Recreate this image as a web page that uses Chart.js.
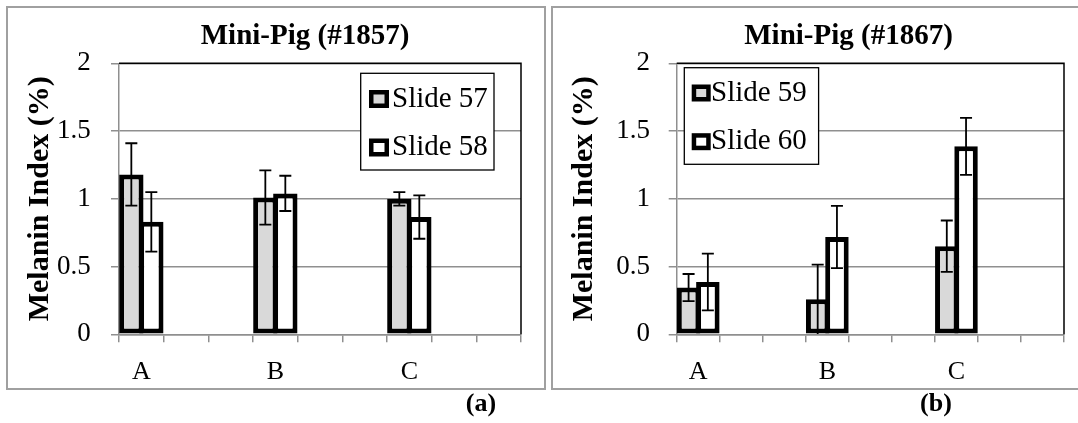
<!DOCTYPE html>
<html><head><meta charset="utf-8">
<script src="https://cdn.jsdelivr.net/npm/chart.js@4.4.1/dist/chart.umd.min.js"></script>
<style>
html,body{margin:0;padding:0;background:#fff;}
body{position:relative;width:1078px;height:423px;overflow:hidden;font-family:"Liberation Serif","Times New Roman",serif;}
.panel{position:absolute;box-sizing:border-box;border:2px solid #a0a0a0;}
.wrap{position:absolute;top:0;}
.cap{position:absolute;font-weight:bold;font-size:26px;line-height:26px;width:60px;text-align:center;color:#000;}
</style></head><body>
<div class="panel" style="left:6px;top:6px;width:540px;height:384px"></div>
<div class="panel" style="left:551px;top:6px;width:540px;height:384px"></div>
<div class="wrap" style="left:0;width:548px;height:392px"><canvas id="ca" width="548" height="392"></canvas></div>
<div class="wrap" style="left:548px;width:530px;height:392px"><canvas id="cb" width="530" height="392"></canvas></div>
<div class="cap" style="left:451px;top:390px">(a)</div>
<div class="cap" style="left:906px;top:390px">(b)</div>
<script>
// ---- data ----
const categories = ['A', 'B', 'C'];
const slotsPerCategory = 3;
const yTitle = 'Melanin Index (%)';
const titleA = 'Mini-Pig (#1857)';
const titleB = 'Mini-Pig (#1867)';
const namesA = ['Slide 57', 'Slide 58'];
const namesB = ['Slide 59', 'Slide 60'];
const slide57 = [1.18, 1.01, 1.00];
const slide57Err = [0.23, 0.20, 0.05];
const slide58 = [0.83, 1.04, 0.865];
const slide58Err = [0.22, 0.13, 0.16];
const slide59 = [0.345, 0.258, 0.65];
const slide59Err = [0.10, 0.256, 0.19];
const slide60 = [0.386, 0.718, 1.387];
const slide60Err = [0.21, 0.23, 0.21];

// ---- build helpers ----
const xLabels = categories.flatMap(c => [c, ...Array(slotsPerCategory - 1).fill('')]);
const spread = arr => arr.flatMap(v => [v, ...Array(slotsPerCategory - 1).fill(null)]);
const FAM = '"Liberation Serif", "Times New Roman", serif';
const GRAY = '#8f8f8f';

const frame = {
  id: 'frame',
  beforeDatasetsDraw(chart) {
    const {ctx, chartArea: a} = chart;
    ctx.save();
    ctx.strokeStyle = '#000'; ctx.lineWidth = 1.5;
    ctx.beginPath();
    ctx.moveTo(a.left, a.top); ctx.lineTo(a.right, a.top); ctx.lineTo(a.right, a.bottom);
    ctx.stroke();
    ctx.restore();
  }
};

const errorBars = {
  id: 'errorBars',
  afterDatasetsDraw(chart) {
    const {ctx, chartArea} = chart;
    const y = chart.scales.y;
    ctx.save();
    ctx.strokeStyle = '#000'; ctx.lineWidth = 1.8;
    chart.data.datasets.forEach((ds, di) => {
      const meta = chart.getDatasetMeta(di);
      meta.data.forEach((bar, i) => {
        const v = ds.data[i], e = ds.errors[i];
        if (v == null || e == null) return;
        const x = bar.x;
        const yt = y.getPixelForValue(v + e);
        const yb = Math.min(y.getPixelForValue(v - e), chartArea.bottom);
        ctx.beginPath();
        ctx.moveTo(x, yt); ctx.lineTo(x, yb);
        ctx.moveTo(x - 6, yt); ctx.lineTo(x + 6, yt);
        if (v - e > 0.005) { ctx.moveTo(x - 6, yb); ctx.lineTo(x + 6, yb); }
        ctx.stroke();
      });
    });
    ctx.restore();
  }
};

const boxLegend = {
  id: 'boxLegend',
  afterDraw(chart, args, o) {
    const ctx = chart.ctx;
    ctx.save();
    ctx.fillStyle = '#fff'; ctx.fillRect(o.x, o.y, o.w, o.h);
    ctx.strokeStyle = '#000'; ctx.lineWidth = 1.3; ctx.strokeRect(o.x, o.y, o.w, o.h);
    ctx.font = '29px ' + FAM; ctx.textBaseline = 'alphabetic'; ctx.textAlign = 'left';
    chart.data.datasets.forEach((ds, i) => {
      const cy = o.firstY + i * o.rowGap;
      ctx.fillStyle = '#000';
      ctx.fillRect(o.markX, cy - o.markH / 2, o.markW, o.markH);
      ctx.fillStyle = ds.backgroundColor;
      ctx.fillRect(o.markX + 4.5, cy - o.markH / 2 + 4.5, o.markW - 9, o.markH - 9);
      ctx.fillStyle = '#000';
      ctx.fillText(ds.label, o.textX, cy + 7.5);
    });
    ctx.restore();
  }
};

const panelTitle = {
  id: 'panelTitle',
  afterDraw(chart, args, o) {
    const ctx = chart.ctx;
    ctx.save();
    ctx.font = 'bold 29px ' + FAM; ctx.fillStyle = '#000';
    ctx.textAlign = 'center'; ctx.textBaseline = 'alphabetic';
    ctx.fillText(o.text, o.x, o.y);
    ctx.restore();
  }
};

function makeChart(id, s1, s1e, s2, s2e, names, cfg) {
  const barStyle = {borderColor: '#000', borderWidth: 5, borderSkipped: false,
    categoryPercentage: 0.895, barPercentage: 1.22};
  return new Chart(document.getElementById(id), {
    type: 'bar',
    data: {
      labels: xLabels,
      datasets: [
        Object.assign({label: names[0], data: spread(s1), errors: spread(s1e), backgroundColor: '#d9d9d9'}, barStyle),
        Object.assign({label: names[1], data: spread(s2), errors: spread(s2e), backgroundColor: '#ffffff'}, barStyle)
      ]
    },
    options: {
      responsive: false, animation: false, events: [],
      layout: {padding: {left: 0, right: cfg.padRight, top: 63.3, bottom: 0}},
      plugins: {
        legend: {display: false}, tooltip: {enabled: false}, title: {display: false},
        panelTitle: cfg.title, boxLegend: cfg.legend
      },
      scales: {
        x: {
          grid: {display: true, drawOnChartArea: false, drawTicks: true, tickLength: 8, color: GRAY, lineWidth: 1.5, offset: true},
          border: {color: GRAY, width: 1.5},
          ticks: {autoSkip: false, maxRotation: 0, minRotation: 0, padding: 13.8, color: '#000', font: {family: FAM, size: 26}},
          afterFit(s) { s.height = 392 - 334.3; }
        },
        y: {
          min: 0, max: 2,
          ticks: {stepSize: 0.5, padding: cfg.tickPad, color: '#000', font: {family: FAM, size: 27}, callback: v => String(v)},
          grid: {color: GRAY, lineWidth: 1.5, tickLength: 8, drawTicks: true},
          border: {color: GRAY, width: 1.5},
          title: {display: true, text: yTitle, color: '#000', font: {family: FAM, size: 30, weight: 'bold'}, padding: {top: cfg.titlePad, bottom: 0}},
          afterFit(s) { s.width = cfg.yWidth; }
        }
      }
    },
    plugins: [frame, errorBars, boxLegend, panelTitle]
  });
}

makeChart('ca', slide57, slide57Err, slide58, slide58Err, namesA, {
  padRight: 27, yWidth: 119, tickPad: 20.3, titlePad: 21.9,
  title: {text: titleA, x: 305, y: 43.5},
  legend: {x: 360.7, y: 73.3, w: 133.3, h: 96.7, markX: 369, markW: 20, markH: 18, firstY: 99, rowGap: 48.5, textX: 392}
});
makeChart('cb', slide59, slide59Err, slide60, slide60Err, namesB, {
  padRight: 14, yWidth: 128.7, tickPad: 18.7, titlePad: 18.2,
  title: {text: titleB, x: 300.5, y: 43.5},
  legend: {x: 136.3, y: 67.7, w: 134.3, h: 96.6, markX: 143.7, markW: 19, markH: 17, firstY: 93, rowGap: 48.7, textX: 163}
});
</script>
</body></html>
